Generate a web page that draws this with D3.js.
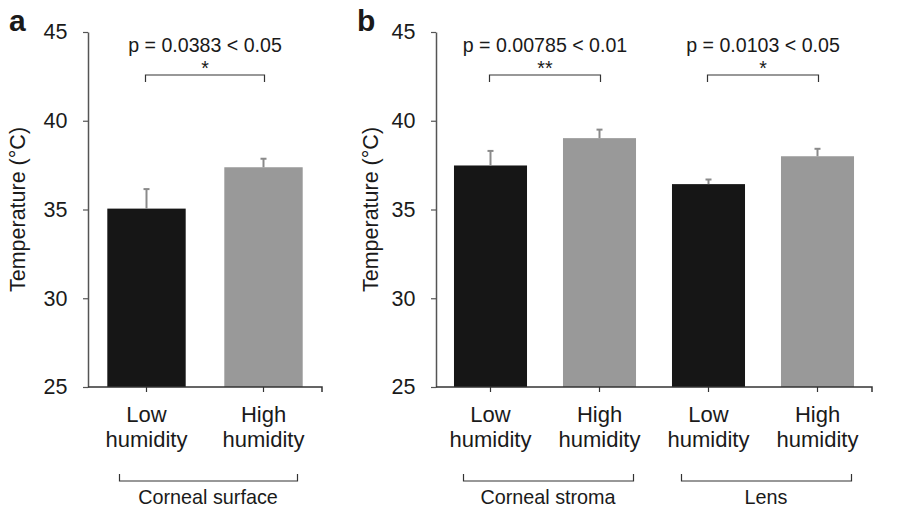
<!DOCTYPE html>
<html>
<head>
<meta charset="utf-8">
<script src="https://cdn.jsdelivr.net/npm/d3@7"></script>
<style>
  body { margin: 0; background: #fff; }
  svg { display: block; }
  text { font-family: "Liberation Sans", Arial, sans-serif; fill: #1a1a1a; }
</style>
</head>
<body>
<svg id="chart" width="907" height="509"></svg>
<script>
// ---- data ----
const yTicks = [25, 30, 35, 40, 45];
const yLabel = "Temperature (°C)";

const catsA = ["Low|humidity", "High|humidity"];
const meansA = [35.05, 37.38];
const errsA = [1.1, 0.48];
const groupA = ["Corneal surface"];
const pTextA = ["p = 0.0383 < 0.05"];
const starsA = ["*"];

const catsB = ["Low|humidity", "High|humidity", "Low|humidity", "High|humidity"];
const meansB = [37.48, 39.02, 36.43, 38.0];
const errsB = [0.82, 0.48, 0.26, 0.42];
const groupB = ["Corneal stroma", "Lens"];
const pTextB = ["p = 0.00785 < 0.01", "p = 0.0103 < 0.05"];
const starsB = ["**", "*"];

const barColors = ["#161616", "#999999"];

const svg = d3.select("#chart");
const y = d3.scaleLinear().domain([25, 45]).range([387, 32]);

function panel(opts) {
  const { x0, x1, cats, means, errs, groups, pTexts, stars, letter, letterX, labelX } = opts;
  const g = svg.append("g");
  const idx = d3.range(cats.length);
  const x = d3.scaleBand().domain(idx).range([x0, x1]).paddingInner(0.33).paddingOuter(0.165);
  const c = i => x(i) + x.bandwidth() / 2;

  // bars
  g.selectAll("rect.bar").data(idx).join("rect")
    .attr("x", i => x(i)).attr("width", x.bandwidth())
    .attr("y", i => y(means[i])).attr("height", i => y(25) - y(means[i]))
    .attr("fill", i => barColors[i % 2]);

  // error bars (upward)
  const eg = g.selectAll("g.err").data(idx).join("g").attr("stroke", "#8a8a8a").attr("stroke-width", 2);
  eg.append("line").attr("x1", c).attr("x2", c)
    .attr("y1", i => y(means[i])).attr("y2", i => y(means[i] + errs[i]));
  eg.append("line").attr("x1", i => c(i) - 3).attr("x2", i => c(i) + 3)
    .attr("y1", i => y(means[i] + errs[i])).attr("y2", i => y(means[i] + errs[i]));

  // y axis
  const ya = g.append("g").attr("transform", `translate(${x0},0)`)
    .call(d3.axisLeft(y).tickValues(yTicks).tickSize(5).tickPadding(15.5).tickSizeOuter(0));
  ya.select(".domain").attr("stroke", "#555").attr("stroke-width", 1.5);
  ya.selectAll(".tick line").attr("stroke", "#555").attr("stroke-width", 1.2);
  ya.selectAll(".tick text").attr("font-size", 21.5).attr("font-family", "Liberation Sans, Arial, sans-serif").attr("fill", "#1a1a1a");

  // x axis
  const xa = g.append("g").attr("transform", `translate(0,${y(25)})`)
    .call(d3.axisBottom(x).tickSize(5).tickSizeOuter(0).tickFormat(""));
  xa.select(".domain").attr("d", `M${x0},0H${x1}V5`).attr("stroke", "#333").attr("stroke-width", 1.5);
  xa.selectAll(".tick line").attr("stroke", "#333").attr("stroke-width", 1.2);

  // category labels
  idx.forEach(i => {
    const parts = cats[i].split("|");
    g.append("text").attr("x", c(i)).attr("y", 422).attr("text-anchor", "middle").attr("font-size", 22).text(parts[0]);
    g.append("text").attr("x", c(i)).attr("y", 447).attr("text-anchor", "middle").attr("font-size", 22).text(parts[1]);
  });

  // group brackets + labels, and significance brackets
  groups.forEach((name, k) => {
    const a = c(2 * k), b = c(2 * k + 1), mid = (a + b) / 2;
    g.append("path").attr("d", `M${a - 27},474V481H${b + 34}V474`).attr("fill", "none").attr("stroke", "#333").attr("stroke-width", 1.2);
    g.append("text").attr("x", mid + 3).attr("y", 504).attr("text-anchor", "middle").attr("font-size", 19.8).text(name);

    g.append("path").attr("d", `M${a - 1},82V75H${b + 1}V82`).attr("fill", "none").attr("stroke", "#333").attr("stroke-width", 1.2);
    g.append("text").attr("x", mid).attr("y", 52).attr("text-anchor", "middle").attr("font-size", 19.6).text(pTexts[k]);
    g.append("text").attr("x", mid).attr("y", 75).attr("text-anchor", "middle").attr("font-size", 19.6).text(stars[k]);
  });

  // y label
  g.append("text").attr("transform", `translate(${labelX},${(y(25) + y(45)) / 2}) rotate(-90)`)
    .attr("text-anchor", "middle").attr("font-size", 21.5).text(yLabel);

  // panel letter
  g.append("text").attr("x", letterX).attr("y", 31).attr("font-size", 30).attr("font-weight", "bold").attr("fill", "#111").text(letter);
}

panel({ x0: 88, x1: 322, cats: catsA, means: meansA, errs: errsA, groups: groupA, pTexts: pTextA, stars: starsA, letter: "a", letterX: 9, labelX: 25 });
panel({ x0: 436, x1: 872, cats: catsB, means: meansB, errs: errsB, groups: groupB, pTexts: pTextB, stars: starsB, letter: "b", letterX: 357, labelX: 378 });
</script>
</body>
</html>
